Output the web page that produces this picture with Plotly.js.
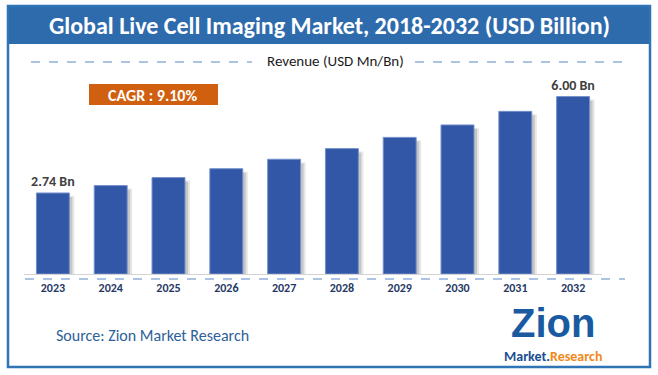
<!DOCTYPE html>
<html>
<head>
<meta charset="utf-8">
<script src="https://cdn.plot.ly/plotly-3.0.1.min.js"></script>
<style>html,body{margin:0;padding:0;background:#fff;} #chart{width:658px;height:375px;}</style>
</head>
<body>
<div id="chart"></div>
<script>
// Data
const years = ["2023","2024","2025","2026","2027","2028","2029","2030","2031","2032"];
const revenue = [2.74, 2.99, 3.26, 3.56, 3.88, 4.24, 4.62, 5.04, 5.50, 6.00];
const barLabels = ["2.74 Bn","","","","","","","","","6.00 Bn"];
const chartTitle = "Global Live Cell Imaging Market, 2018-2032 (USD Billion)";
const subTitle = "Revenue (USD Mn/Bn)";
const cagrText = "CAGR : 9.10%";
const sourceText = "Source: Zion Market Research";

const W = 658, H = 375;
const M = {l: 24, r: 56, t: 67, b: 101};
const PW = W - M.l - M.r, PH = H - M.t - M.b;
const px = x => (x - M.l) / PW;
const py = y => (H - M.b - y) / PH;
const FONT = "Carlito, 'Liberation Sans Narrow', 'Liberation Sans', Arial, sans-serif";

const shadowOuter = {
  type: "bar", x: years, y: revenue.map(v => v - 0.1),
  width: 0.57, offset: -0.285 + 5 / 57.8,
  marker: {color: "rgba(120,120,120,0.18)", line: {width: 0}},
  hoverinfo: "skip", showlegend: false
};
const shadowInner = {
  type: "bar", x: years, y: revenue.map(v => v - 0.14),
  width: 0.57, offset: -0.285 + 3 / 57.8,
  marker: {color: "rgba(100,100,100,0.25)", line: {width: 0}},
  hoverinfo: "skip", showlegend: false
};
const bars = {
  type: "bar", x: years, y: revenue,
  width: 0.57, offset: -0.285,
  marker: {color: "#3257a6", line: {color: "#7390cc", width: 1}},
  text: barLabels, textposition: "outside", cliponaxis: false, constraintext: "none",
  textfont: {family: FONT, size: 14, color: "#404040", weight: "bold"},
  showlegend: false
};

const shapes = [
  {type: "rect", xref: "paper", yref: "paper", x0: px(8), x1: px(650), y0: py(6), y1: py(44),
   fillcolor: "#2e6bad", line: {width: 0}, layer: "below"},
  {type: "rect", xref: "paper", yref: "paper", x0: px(8), x1: px(650), y0: py(6), y1: py(367),
   fillcolor: "rgba(0,0,0,0)", line: {color: "#2f74b5", width: 2.5}},
  {type: "line", xref: "paper", yref: "paper", x0: px(31), x1: px(252), y0: py(62), y1: py(62),
   line: {color: "#5b87c8", width: 1, dash: "dash"}},
  {type: "line", xref: "paper", yref: "paper", x0: px(415), x1: px(623), y0: py(62), y1: py(62),
   line: {color: "#5b87c8", width: 1, dash: "dash"}},
  {type: "line", xref: "paper", yref: "paper", x0: px(25), x1: px(625), y0: py(279), y1: py(279),
   line: {color: "#5b87c8", width: 1, dash: "dash"}},
  {type: "rect", xref: "paper", yref: "paper", x0: px(89), x1: px(218), y0: py(84), y1: py(105),
   fillcolor: "#d0600f", line: {width: 0}}
];

const annotations = [
  {xref: "paper", yref: "paper", x: px(329), y: py(25), text: chartTitle, showarrow: false,
   font: {family: FONT, size: 24, color: "#ffffff", weight: "bold"}, xanchor: "center", yanchor: "middle"},
  {xref: "paper", yref: "paper", x: px(335), y: py(61), text: subTitle, showarrow: false,
   font: {family: FONT, size: 15, color: "#1a1a1a"}, xanchor: "center", yanchor: "middle"},
  {xref: "paper", yref: "paper", x: px(152), y: py(95), text: cagrText, showarrow: false,
   font: {family: FONT, size: 16, color: "#ffffff", weight: "bold"}, xanchor: "center", yanchor: "middle"},
  {xref: "paper", yref: "paper", x: px(54), y: py(335), text: sourceText, showarrow: false,
   font: {family: FONT, size: 16, color: "#2e5f99"}, xanchor: "left", yanchor: "middle"},
  {xref: "paper", yref: "paper", x: px(553), y: py(323), text: "Zion", showarrow: false,
   font: {family: "'Liberation Sans', Arial, sans-serif", size: 40, color: "#1a5aa0", weight: "bold"},
   xanchor: "center", yanchor: "middle"},
  {xref: "paper", yref: "paper", x: px(553), y: py(356), showarrow: false,
   text: "<span style='color:#1a4f94'>Market.</span><span style='color:#f08a1c'>Research</span>",
   font: {family: FONT, size: 14, weight: "bold"}, xanchor: "center", yanchor: "middle"}
];

const layout = {
  width: W, height: H, margin: M,
  paper_bgcolor: "#ffffff", plot_bgcolor: "#ffffff",
  barmode: "overlay",
  xaxis: {type: "category", range: [-0.5, 9.5], showgrid: false, zeroline: false,
          showline: true, linecolor: "#d4d4d4", linewidth: 1, ticks: "", ticklabelstandoff: 3,
          tickfont: {family: FONT, size: 12, color: "#1f3864", weight: "bold"}},
  yaxis: {range: [0, 7], visible: false, showgrid: false, zeroline: false},
  shapes: shapes, annotations: annotations
};

Plotly.newPlot("chart", [shadowOuter, shadowInner, bars], layout, {displayModeBar: false, staticPlot: true});
</script>
</body>
</html>
